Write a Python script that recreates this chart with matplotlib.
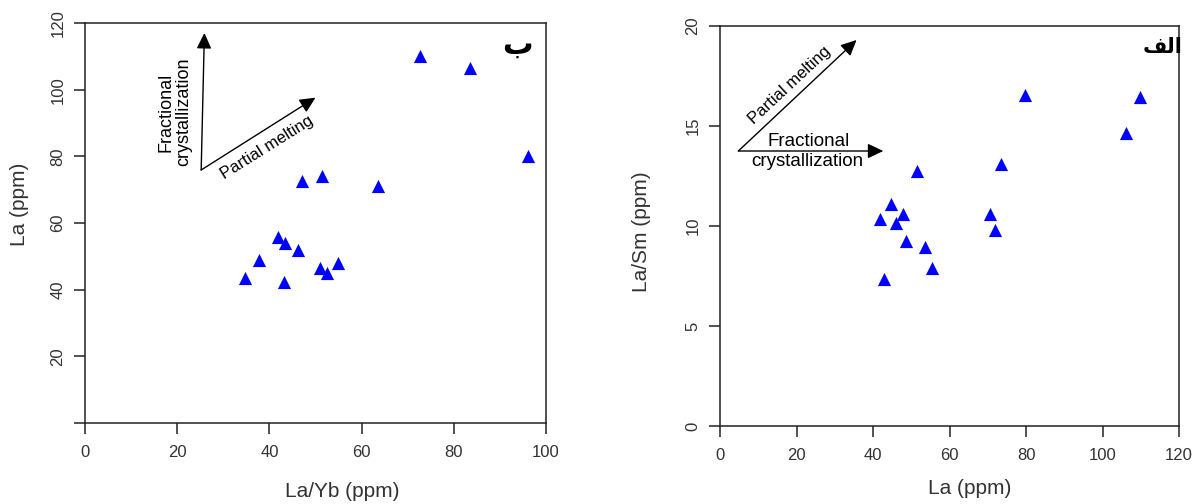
import numpy as np
import matplotlib
matplotlib.use("Agg")
import matplotlib.pyplot as plt

plt.rcParams['font.family'] = ['Liberation Sans', 'DejaVu Sans']

## data: left panel (La/Yb vs La)
la_yb = [72.7, 83.6, 96.1, 47.1, 51.4, 63.5, 41.8, 43.4, 46.2, 37.8, 34.8, 43.2, 51.0, 52.5, 54.9]
la_left = [110.0, 106.5, 80.2, 72.7, 74.2, 71.0, 55.7, 53.9, 52.0, 49.0, 43.4, 42.2, 46.4, 45.0, 48.1]

## data: right panel (La vs La/Sm)
la_right = [79.8, 109.7, 106.2, 73.5, 51.6, 44.7, 41.9, 47.8, 45.9, 48.6, 53.5, 55.4, 43.0, 70.5, 72.0]
la_sm = [16.56, 16.46, 14.65, 13.08, 12.73, 11.08, 10.33, 10.61, 10.14, 9.27, 8.94, 7.89, 7.34, 10.61, 9.79]

left_xticks = [0, 20, 40, 60, 80, 100]
left_yticks = [0, 20, 40, 60, 80, 100, 120]
left_ylabels = ['', '20', '40', '60', '80', '100', '120']
right_xticks = [0, 20, 40, 60, 80, 100, 120]
right_yticks = [0, 5, 10, 15, 20]

fig = plt.figure(figsize=(12, 5.04), dpi=100)
ax1 = fig.add_axes([85/1200, 1-423/504, 461/1200, 400/504])
ax2 = fig.add_axes([720/1200, 1-426/504, 459/1200, 400/504])

arrow_kw = dict(arrowstyle='-|>,head_length=0.95,head_width=0.45', mutation_scale=10,
                color='black', lw=1.0, shrinkA=0, shrinkB=0)


def style_axes(ax):
    for s in ax.spines.values():
        s.set_linewidth(1.1)
        s.set_color('#222222')
    ax.tick_params(direction='out', length=8, width=1.1, color='#222222',
                   labelsize=12, labelcolor='#333333')
    ax.tick_params(axis='x', pad=8)
    ax.tick_params(axis='y', pad=6, labelrotation=90)
    for lab in ax.get_yticklabels():
        lab.set_va('center')


# left panel
ax1.scatter(la_yb, la_left, marker='^', s=90, color='#0000ff', linewidths=0, zorder=3)
ax1.set_xlim(0, 100)
ax1.set_ylim(0, 120)
ax1.set_xticks(left_xticks)
ax1.set_yticks(left_yticks)
ax1.set_yticklabels(left_ylabels)
style_axes(ax1)
ax1.set_xlabel('La/Yb (ppm)', fontsize=15, color='#333333', va='center')
ax1.set_ylabel('La (ppm)', fontsize=15, color='#333333', va='center')
ax1.xaxis.set_label_coords(0.557, -0.172)
ax1.yaxis.set_label_coords(-0.142, 0.5475)

ax1.annotate('', xy=(25.9, 117), xytext=(25.2, 75.9), arrowprops=arrow_kw)
ax1.annotate('', xy=(50.0, 97.6), xytext=(25.2, 75.9), arrowprops=arrow_kw)
ax1.text(19.5, 93.3, 'Fractional\ncrystallization', rotation=90, fontsize=13,
         ha='center', va='center', multialignment='center', linespacing=1.0)
ax1.text(39.5, 82.5, 'Partial melting', rotation=32, fontsize=12,
         ha='center', va='center', rotation_mode='anchor')
ax1.text(93.7, 113.4, '\u0628', fontsize=22, fontweight='bold', family='DejaVu Sans',
         ha='center', va='center')

# right panel
ax2.scatter(la_right, la_sm, marker='^', s=90, color='#0000ff', linewidths=0, zorder=3)
ax2.set_xlim(0, 120)
ax2.set_ylim(0, 20)
ax2.set_xticks(right_xticks)
ax2.set_yticks(right_yticks)
style_axes(ax2)
ax2.set_xlabel('La (ppm)', fontsize=15, color='#333333', va='center')
ax2.set_ylabel('La/Sm (ppm)', fontsize=15, color='#333333', va='center')
ax2.xaxis.set_label_coords(0.545, -0.155)
ax2.yaxis.set_label_coords(-0.17, 0.485)

ax2.annotate('', xy=(35.7, 19.3), xytext=(4.8, 13.75), arrowprops=arrow_kw)
ax2.annotate('', xy=(42.7, 13.75), xytext=(4.8, 13.75), arrowprops=arrow_kw)
ax2.text(18.3, 17.05, 'Partial melting', rotation=43, fontsize=12,
         ha='center', va='center', rotation_mode='anchor')
ax2.text(23.3, 14.2, 'Fractional', fontsize=13.5, ha='center', va='center')
ax2.text(22.8, 13.2, 'crystallization', fontsize=13.5, ha='center', va='center')
# "الف" laid out right-to-left with presentation forms
ax2.text(115.6, 18.95, '\uFED2\uFEDF\uFE8D', fontsize=15, fontweight='bold',
         family='DejaVu Sans', ha='center', va='center')

fig.savefig('out.png', dpi=100)
